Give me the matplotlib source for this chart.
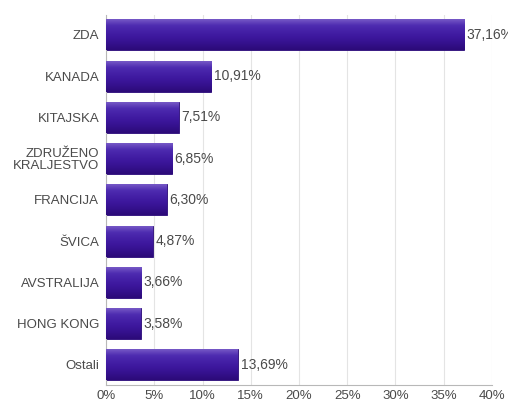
import numpy as np
import matplotlib.pyplot as plt
from matplotlib.colors import LinearSegmentedColormap

countries = ['ZDA', 'KANADA', 'KITAJSKA', 'ZDRUŽENO\nKRALJESTVO', 'FRANCIJA',
             'ŠVICA', 'AVSTRALIJA', 'HONG KONG', 'Ostali']
shares = [37.16, 10.91, 7.51, 6.85, 6.30, 4.87, 3.66, 3.58, 13.69]
x_ticks = [0, 5, 10, 15, 20, 25, 30, 35, 40]

plt.rcParams['font.family'] = ['Liberation Sans', 'DejaVu Sans']

fig = plt.figure(figsize=(5.08, 4.05), dpi=100)
ax = fig.add_axes([0.209, 0.05, 0.759, 0.913])

y = np.arange(len(countries))
h = 0.75
bars = ax.barh(y, shares, height=h, color='#3a1496', edgecolor='#2a0a78',
               linewidth=0.6, zorder=2)

# shading across each bar: light rim on top, darker towards the bottom
cmap = LinearSegmentedColormap.from_list(
    'bar', ['#2c0a78', '#34108c', '#3c169c', '#4420a6', '#4e2cb0', '#7658c6'])
grad = np.linspace(1, 0, 64).reshape(-1, 1)  # first row drawn at the top
for b in bars:
    x0, y0 = b.get_x(), b.get_y()
    ax.imshow(grad, cmap=cmap, aspect='auto', zorder=3, interpolation='bilinear',
              extent=[x0, x0 + b.get_width(), y0 + b.get_height(), y0])
    ax.text(b.get_width() + 0.25, b.get_y() + b.get_height() / 2,
            f'{b.get_width():.2f}%'.replace('.', ','),
            va='center', ha='left', fontsize=10, color='#4a4a4a', zorder=4)

ax.set_ylim(8.485, -0.485)
ax.set_xlim(0, 40)
ax.set_yticks(y)
ax.set_yticklabels(countries, fontsize=9.5, color='#4a4a4a', linespacing=1.0)
ax.set_xticks(x_ticks)
ax.set_xticklabels([f'{t}%' for t in x_ticks], fontsize=9.5, color='#4a4a4a')
ax.tick_params(length=0, pad=4)
ax.tick_params(axis='y', pad=5)

ax.grid(axis='x', color='#e4e4e4', linewidth=0.8, zorder=0)
for side in ['top', 'right']:
    ax.spines[side].set_visible(False)
for side in ['left', 'bottom']:
    ax.spines[side].set_color('#b8b8b8')

plt.savefig('out.png', dpi=100)
